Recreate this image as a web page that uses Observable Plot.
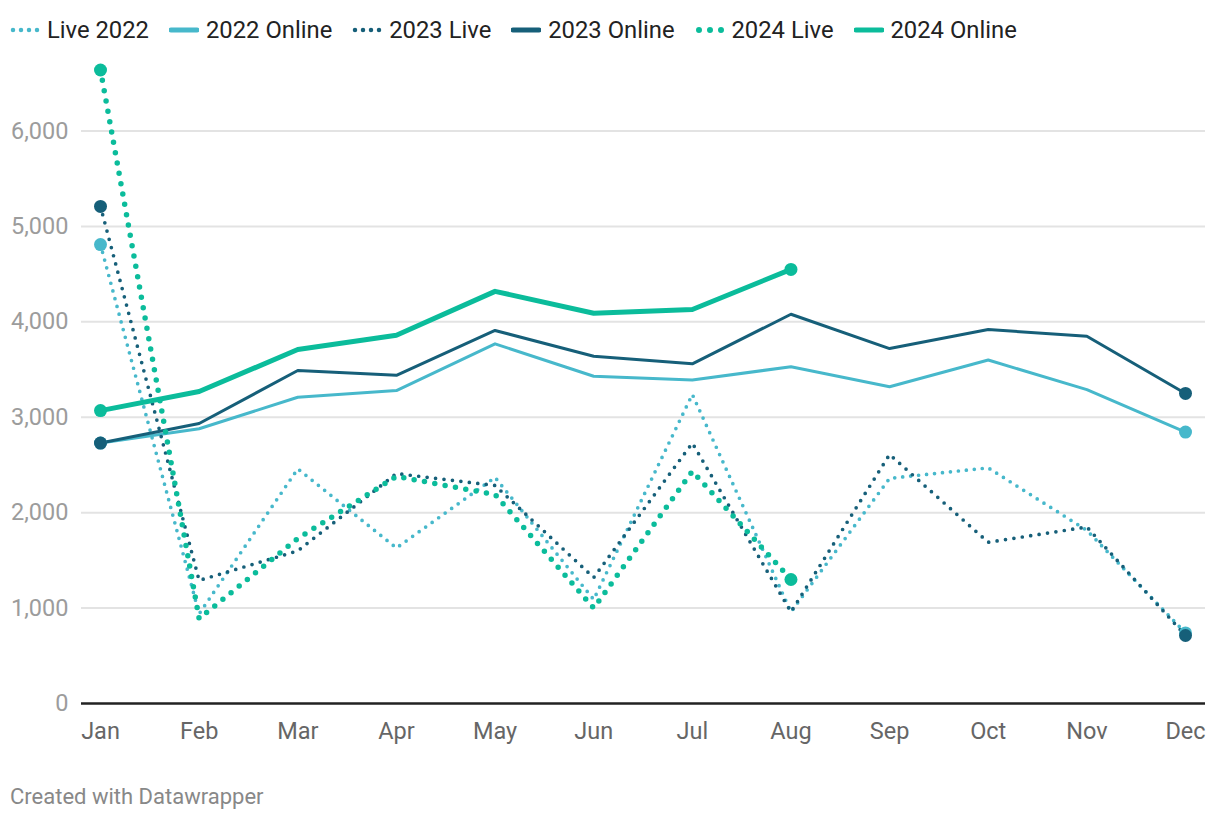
<!DOCTYPE html>
<html>
<head>
<meta charset="utf-8">
<script src="https://cdn.jsdelivr.net/npm/d3@7"></script>
<script src="https://cdn.jsdelivr.net/npm/@observablehq/plot@0.6"></script>
<style>
  html, body { margin: 0; padding: 0; background: #fff; }
  body { width: 1220px; height: 820px; position: relative; overflow: hidden; font-family: Roboto, "Noto Sans", sans-serif; }
  #legend { position: absolute; left: 10px; top: 12px; height: 36px; display: flex; align-items: center; gap: 20px; font-size: 23.8px; color: #222; }
  .item { display: flex; align-items: center; gap: 7px; }
  .item svg { display: block; }
  #chart { position: absolute; left: 0; top: 40px; }
  #caption { position: absolute; left: 10px; top: 784px; font-size: 22px; color: #888; }
</style>
</head>
<body>
<div id="legend"></div>
<div id="chart"></div>
<div id="caption">Created with Datawrapper</div>
<script>
const months = ["Jan","Feb","Mar","Apr","May","Jun","Jul","Aug","Sep","Oct","Nov","Dec"];
const seriesNames = ["Live 2022","2022 Online","2023 Live","2023 Online","2024 Live","2024 Online"];
const live2022   = [4810, 940, 2460, 1630, 2370, 1090, 3240, 960, 2360, 2470, 1815, 740];
const online2022 = [2730, 2880, 3210, 3280, 3770, 3430, 3390, 3530, 3320, 3600, 3290, 2845];
const live2023   = [5210, 1290, 1600, 2410, 2285, 1320, 2730, 960, 2610, 1690, 1850, 713];
const online2023 = [2730, 2935, 3490, 3440, 3910, 3640, 3560, 4080, 3720, 3920, 3850, 3250];
const live2024   = [6640, 890, 1730, 2380, 2190, 1000, 2435, 1300];
const online2024 = [3070, 3270, 3710, 3860, 4320, 4090, 4130, 4550];
const yTicks = [0, 1000, 2000, 3000, 4000, 5000, 6000];

const values = [live2022, online2022, live2023, online2023, live2024, online2024];
const colors = ["#47b8cb", "#47b8cb", "#165f79", "#165f79", "#0bbc9b", "#0bbc9b"];
const styles = [
  {strokeWidth: 3.7, dash: "0,8"},
  {strokeWidth: 3, dash: null},
  {strokeWidth: 3.7, dash: "0,8.5"},
  {strokeWidth: 3, dash: null},
  {strokeWidth: 5.5, dash: "0,10.5"},
  {strokeWidth: 5, dash: null}
];

const rows = [];
seriesNames.forEach((s, i) => values[i].forEach((v, j) => rows.push({series: s, month: months[j], value: v, idx: j, n: values[i].length})));

const marks = [
  Plot.ruleY(yTicks.filter(d => d > 0), {stroke: "#e3e3e3", strokeWidth: 2, insetLeft: -19, insetRight: -20}),
  Plot.ruleY([0], {stroke: "#222", strokeWidth: 2.5, insetLeft: -19, insetRight: -20}),
  Plot.axisY({ticks: yTicks, tickSize: 0, tickPadding: 32, tickFormat: d3.format(","), fill: "#9c9c9c", fontSize: 23.5, label: null}),
  Plot.axisX({tickSize: 0, tickPadding: 19, fill: "#666", fontSize: 23.5, label: null})
];
seriesNames.forEach((s, i) => {
  const data = rows.filter(r => r.series === s);
  marks.push(Plot.line(data, {
    x: "month", y: "value", stroke: colors[i], strokeWidth: styles[i].strokeWidth,
    strokeDasharray: styles[i].dash || undefined, strokeLinecap: "round", strokeLinejoin: "round"
  }));
});
seriesNames.forEach((s, i) => {
  const data = rows.filter(r => r.series === s && (r.idx === 0 || r.idx === r.n - 1));
  marks.push(Plot.dot(data, {x: "month", y: "value", fill: colors[i], r: 6.5}));
});

const chart = Plot.plot({
  width: 1220,
  height: 713,
  marginLeft: 100,
  marginRight: 35,
  marginTop: 29.5,
  marginBottom: 50,
  style: {fontFamily: "Roboto, sans-serif", fontSize: "23.5px", overflow: "visible", background: "transparent"},
  x: {type: "point", domain: months, padding: 0, round: false},
  y: {domain: [0, 6640]},
  marks
});
document.getElementById("chart").appendChild(chart);

// legend
const legend = document.getElementById("legend");
seriesNames.forEach((s, i) => {
  const item = document.createElement("div");
  item.className = "item";
  const ns = "http://www.w3.org/2000/svg";
  const svg = document.createElementNS(ns, "svg");
  svg.setAttribute("width", 30); svg.setAttribute("height", 20);
  const line = document.createElementNS(ns, "line");
  const dotted = !!styles[i].dash;
  const big = i >= 4;
  line.setAttribute("x1", dotted ? (big ? 4 : 3) : 2);
  line.setAttribute("x2", 28);
  line.setAttribute("y1", 10); line.setAttribute("y2", 10);
  line.setAttribute("stroke", colors[i]);
  line.setAttribute("stroke-width", dotted ? (big ? 6 : 4.5) : 5);
  line.setAttribute("stroke-linecap", "round");
  if (dotted) line.setAttribute("stroke-dasharray", big ? "0,11" : "0,8");
  svg.appendChild(line);
  const span = document.createElement("span");
  span.textContent = s;
  item.appendChild(svg); item.appendChild(span);
  legend.appendChild(item);
});
</script>
</body>
</html>
